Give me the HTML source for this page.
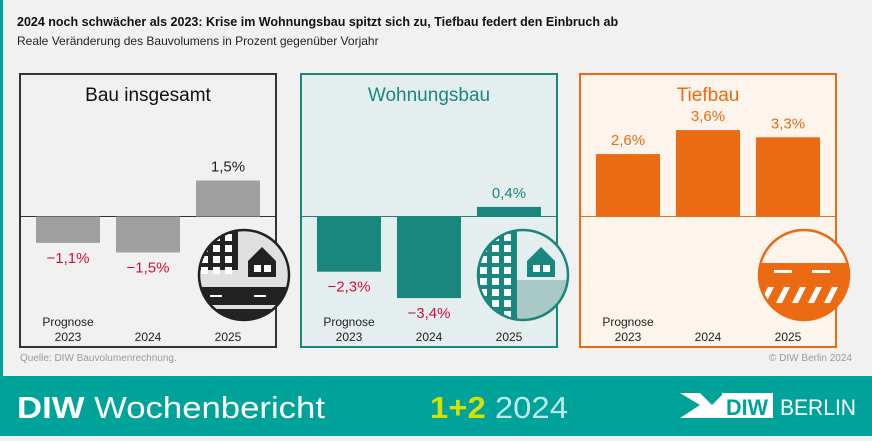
<!DOCTYPE html>
<html><head><meta charset="utf-8"><style>
body{margin:0;width:872px;height:436px;overflow:hidden;background:#f1f1f1;font-family:"Liberation Sans",sans-serif}
</style></head><body>
<svg width="872" height="436" xmlns="http://www.w3.org/2000/svg">
<defs>
<clipPath id="c0"><circle cx="244" cy="275" r="45"/></clipPath>
<clipPath id="c1"><circle cx="523" cy="275" r="45"/></clipPath>
<clipPath id="c2"><circle cx="804" cy="275" r="45"/></clipPath>
</defs>
<rect x="0" y="0" width="872" height="376" fill="#f1f1f1"/>
<rect x="0" y="0" width="3" height="376" fill="#00a19a"/>
<text x="17" y="26" font-size="12.5" font-weight="bold" fill="#111">2024 noch schwächer als 2023: Krise im Wohnungsbau spitzt sich zu, Tiefbau federt den Einbruch ab</text>
<text x="17" y="45" font-size="12" fill="#222">Reale Veränderung des Bauvolumens in Prozent gegenüber Vorjahr</text>
<g id="panels"></g>
<text x="20" y="361" font-size="10" fill="#999">Quelle: DIW Bauvolumenrechnung.</text>
<text x="852" y="361" font-size="10" fill="#999" text-anchor="end">© DIW Berlin 2024</text>
<rect x="0" y="376" width="872" height="60" fill="#00a399"/>
<text x="17" y="418" font-size="31" fill="#fff" textLength="308" lengthAdjust="spacingAndGlyphs"><tspan font-weight="bold">DIW</tspan> Wochenbericht</text>
<text x="430" y="418" font-size="31" textLength="138" lengthAdjust="spacingAndGlyphs"><tspan fill="#d4e000" font-weight="bold">1+2</tspan><tspan fill="#bfe8e4"> 2024</tspan></text>
<g>
<polygon points="680,393 700,393 712,405 724,393 730,393 730,418 680,418 700,405" fill="#fff"/>
<rect x="722" y="393" width="51" height="25" fill="#fff"/>
<text x="747" y="415" font-size="22" font-weight="bold" fill="#00a399" text-anchor="middle" textLength="42" lengthAdjust="spacingAndGlyphs">DIW</text>
<text x="780" y="415" font-size="22" fill="#fff" textLength="76" lengthAdjust="spacingAndGlyphs">BERLIN</text>
</g>
</svg>
<script>
const categories=["Prognose 2023","2024","2025"];
const bauValues=[-1.1,-1.5,1.5];
const wohnValues=[-2.3,-3.4,0.4];
const tiefValues=[2.6,3.6,3.3];
const valueLabels=[["−1,1%","−1,5%","1,5%"],["−2,3%","−3,4%","0,4%"],["2,6%","3,6%","3,3%"]];
const panelTitles=["Bau insgesamt","Wohnungsbau","Tiefbau"];
const NS="http://www.w3.org/2000/svg";
const g=document.getElementById("panels");
const zeroY=216.5, pxPer=24;
const yScale=v=>zeroY-v*pxPer;
const panels=[
 {x:20,vals:bauValues,bg:"#f1f1f1",border:"#333",bar:"#a0a0a0",title:"#111",pos:"#222",icon:"#222",iconBg:"#e0e0e0",name:"bau-insgesamt"},
 {x:301,vals:wohnValues,bg:"#e5eeee",border:"#1a877f",bar:"#1a877f",title:"#1a877f",pos:"#1a877f",icon:"#1a877f",iconBg:"#e5eeee",name:"wohnungsbau"},
 {x:580,vals:tiefValues,bg:"#fdf5ec",border:"#ec6a12",bar:"#ec6a12",title:"#ec6a12",pos:"#ec6a12",icon:"#ec6a12",iconBg:"#fdf5ec",name:"tiefbau"}];
function el(t,a,p){const e=document.createElementNS(NS,t);for(const k in a)e.setAttribute(k,a[k]);(p||g).appendChild(e);return e;}
panels.forEach((p,pi)=>{
 const pg=el("g",{});
 
 
 const r=el("rect",{x:p.x,y:74,width:256,height:273,fill:p.bg,stroke:p.border,"stroke-width":2},pg);
 
 
 const t=el("text",{x:p.x+128,y:101,"font-size":19,"text-anchor":"middle",fill:p.title},pg);
 t.textContent=panelTitles[pi];
 
 
 const zl=el("line",{x1:p.x,x2:p.x+256,y1:zeroY,y2:zeroY,stroke:p.border,"stroke-width":1},pg);
 
 
 p.vals.forEach((v,i)=>{
  const bx=p.x+16+i*80;
  const y0=Math.min(yScale(v),zeroY),h=Math.abs(yScale(v)-zeroY);
  const b=el("rect",{x:bx,y:y0,width:64,height:h,fill:p.bar},pg);
  
  
  const lt=el("text",{x:bx+32,"font-size":15,"text-anchor":"middle",fill:v<0?"#d0103a":p.pos,y:v<0?yScale(v)+20:yScale(v)-9},pg);
  lt.textContent=valueLabels[pi][i];
  
  
  const parts=categories[i].split(" ");
  parts.forEach((s,k)=>{
   const ct=el("text",{x:bx+32,y:341-(parts.length-1-k)*15,"font-size":12,"text-anchor":"middle",fill:"#222"},pg);
   ct.textContent=s;
   
   
  });
 });
 // icon circle
 const cx=[244,523,804][pi],cy=275;
 const ic=el("g",{},pg);
 
 
 el("circle",{cx:cx,cy:cy,r:45,fill:p.iconBg},ic);
 const cl=el("g",{"clip-path":"url(#c"+pi+")"},ic);
 if(pi===2){
  el("rect",{x:cx-46,y:cy-12,width:92,height:60,fill:p.icon},cl);
  el("rect",{x:cx-30,y:cy-5,width:18,height:3,fill:"#fff"},cl);
  el("rect",{x:cx+8,y:cy-5,width:18,height:3,fill:"#fff"},cl);
  for(let k=0;k<6;k++)el("polygon",{points:`${cx-44+k*16},${cy+28} ${cx-36+k*16},${cy+12} ${cx-30+k*16},${cy+12} ${cx-38+k*16},${cy+28}`,fill:"#fff"},cl);
 } else {
  const bh=pi===0?40:60;
  el("rect",{x:cx-48,y:cy-45,width:42,height:pi===0?40:90,fill:p.icon},cl);
  for(let i=0;i<3;i++)for(let j=0;j<(pi===0?4:8);j++)el("rect",{x:cx-43+i*12,y:cy-41+j*11,width:7,height:7,fill:"#fff"},cl);
  el("polygon",{points:`${cx+4},${cy-14} ${cx+18},${cy-28} ${cx+32},${cy-14} ${cx+32},${cy+2} ${cx+4},${cy+2}`,fill:p.icon},cl);
  el("rect",{x:cx+10,y:cy-10,width:7,height:7,fill:"#fff"},cl);
  el("rect",{x:cx+20,y:cy-10,width:7,height:7,fill:"#fff"},cl);
  if(pi===0){el("rect",{x:cx-48,y:cy+12,width:96,height:18,fill:"#222"},cl);
   el("rect",{x:cx-34,y:cy+20,width:12,height:2,fill:"#fff"},cl);el("rect",{x:cx+10,y:cy+20,width:12,height:2,fill:"#fff"},cl);
   el("rect",{x:cx-48,y:cy+34,width:96,height:12,fill:"#222"},cl);}
  else el("rect",{x:cx-6,y:cy+5,width:52,height:45,fill:"#a9c9c6"},cl);
 }
 el("circle",{cx:cx,cy:cy,r:45,fill:"none",stroke:p.icon,"stroke-width":2.5},ic);
});
</script>
</body></html>
